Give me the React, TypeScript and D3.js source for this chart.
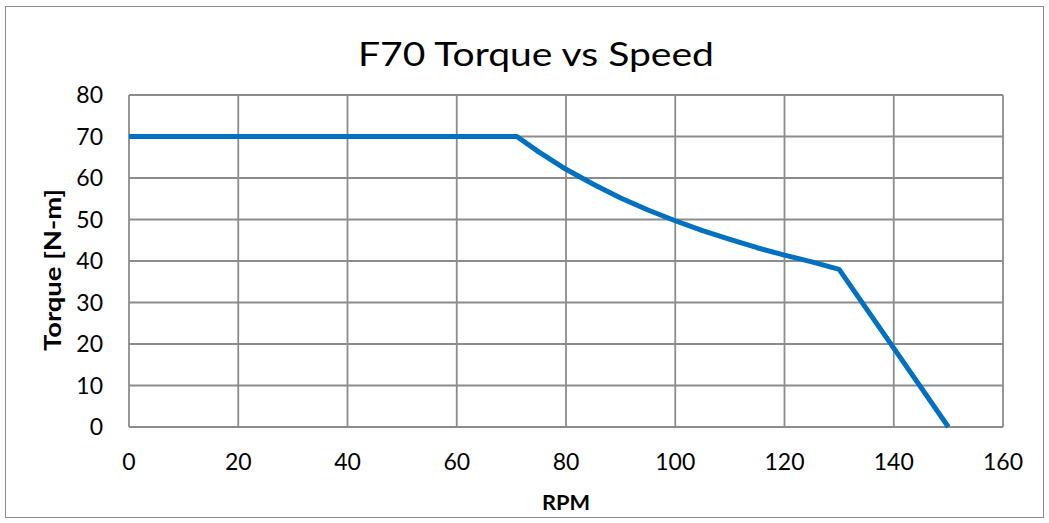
import React, { useEffect, useRef } from 'react';
import * as d3 from 'd3';

// torque curve (RPM vs N-m)
const rpm = [0, 71, 75, 80, 85, 90, 95, 100, 105, 110, 115, 120, 125, 130, 140, 150];
const torque = [70, 70, 66.3, 62.1, 58.5, 55.2, 52.3, 49.7, 47.3, 45.2, 43.2, 41.4, 39.8, 38, 19, 0];
const xTicks = [0, 20, 40, 60, 80, 100, 120, 140, 160];
const yTicks = [0, 10, 20, 30, 40, 50, 60, 70, 80];

const W = 1049;
const H = 523;
const FONT = 'Lato, "Open Sans", sans-serif';

const App = () => {
  const ref = useRef<SVGSVGElement>(null);

  useEffect(() => {
    const svg = d3.select(ref.current);
    svg.selectAll('*').remove();

    const left = 129, right = 1003, top = 95, bottom = 427;
    const x = d3.scaleLinear().domain([0, 160]).range([left, right]);
    const y = d3.scaleLinear().domain([0, 80]).range([bottom, top]);

    svg.append('rect')
      .attr('x', 5.5).attr('y', 6.5)
      .attr('width', W - 11).attr('height', H - 12)
      .attr('fill', 'white').attr('stroke', '#8c8c8c').attr('stroke-width', 1);

    svg.append('text')
      .attr('x', 536).attr('y', 66)
      .attr('text-anchor', 'middle')
      .attr('font-family', FONT).attr('font-size', 32)
      .attr('textLength', 356).attr('lengthAdjust', 'spacingAndGlyphs')
      .text('F70 Torque vs Speed');

    const grid = svg.append('g').attr('stroke', '#8c8c8c').attr('stroke-width', 1.8);
    grid.selectAll('line.v').data(xTicks).join('line')
      .attr('class', 'v')
      .attr('x1', d => x(d)).attr('x2', d => x(d))
      .attr('y1', top).attr('y2', bottom);
    grid.selectAll('line.h').data(yTicks).join('line')
      .attr('class', 'h')
      .attr('x1', left).attr('x2', right)
      .attr('y1', d => y(d)).attr('y2', d => y(d));

    svg.append('g').selectAll('text').data(xTicks).join('text')
      .attr('x', d => x(d)).attr('y', 470)
      .attr('text-anchor', 'middle')
      .attr('font-family', FONT).attr('font-size', 23)
      .text(d => d);

    svg.append('g').selectAll('text').data(yTicks).join('text')
      .attr('x', 103).attr('y', d => y(d) + 8)
      .attr('text-anchor', 'end')
      .attr('font-family', FONT).attr('font-size', 23)
      .text(d => d);

    svg.append('text')
      .attr('x', 566).attr('y', 510)
      .attr('text-anchor', 'middle')
      .attr('font-family', FONT).attr('font-size', 21).attr('font-weight', 'bold')
      .attr('textLength', 48).attr('lengthAdjust', 'spacingAndGlyphs')
      .text('RPM');

    svg.append('text')
      .attr('transform', `translate(61, 270) rotate(-90)`)
      .attr('text-anchor', 'middle')
      .attr('font-family', FONT).attr('font-size', 22).attr('font-weight', 'bold')
      .attr('textLength', 162).attr('lengthAdjust', 'spacingAndGlyphs')
      .text('Torque [N-m]');

    const line = d3.line<number>()
      .x((_, i) => x(rpm[i]))
      .y(d => y(d));

    svg.append('path')
      .datum(torque)
      .attr('d', line)
      .attr('fill', 'none')
      .attr('stroke', '#0070C0')
      .attr('stroke-width', 5)
      .attr('stroke-linejoin', 'round');
  }, []);

  return (
    <div style={{ position: 'absolute', left: 0, top: 0 }}>
      <svg ref={ref} width={W} height={H} />
    </div>
  );
};

export default App;
